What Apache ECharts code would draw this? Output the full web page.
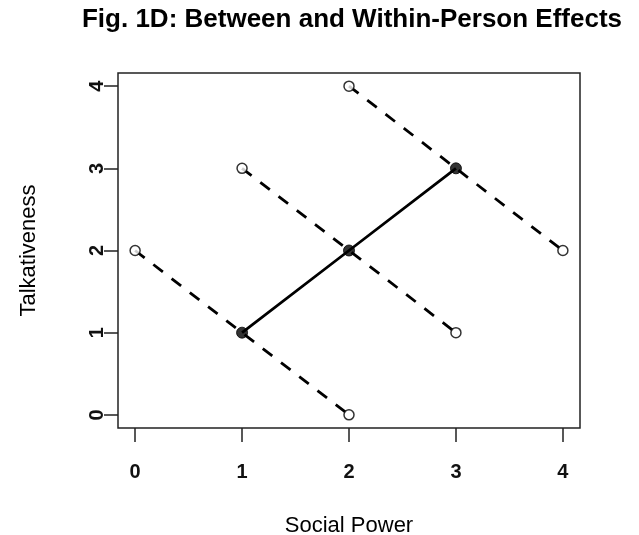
<!DOCTYPE html>
<html><head><meta charset="utf-8">
<script src="https://cdn.jsdelivr.net/npm/echarts@6/dist/echarts.min.js"></script>
<style>html,body{margin:0;padding:0;background:#fff}#c{width:639px;height:535px}</style>
</head><body><div id="c"></div>
<script>
const title = "Fig. 1D: Between and Within-Person Effects";
const xLabel = "Social Power";
const yLabel = "Talkativeness";
// between-person (solid) line
const betweenX = [1, 2, 3];
const betweenY = [1, 2, 3];
// within-person (dashed) lines: each person's start, middle, end
const within1X = [0, 1, 2], within1Y = [2, 1, 0];
const within2X = [1, 2, 3], within2Y = [3, 2, 1];
const within3X = [2, 3, 4], within3Y = [4, 3, 2];
// open-circle endpoints
const openX = [0, 2, 1, 3, 2, 4];
const openY = [2, 0, 3, 1, 4, 2];
// filled person means
const filledX = [1, 2, 3];
const filledY = [1, 2, 3];
const tickVals = [0, 1, 2, 3, 4];

const zip = (a, b) => a.map((v, i) => [v, b[i]]);
const font = 'Liberation Sans, Arial, sans-serif';
const dashed = (xs, ys) => ({
  type: 'line', data: zip(xs, ys), symbol: 'none', z: 2,
  lineStyle: { color: '#000', width: 2.8, type: [12, 11] }
});
const chart = echarts.init(document.getElementById('c'));
chart.setOption({
  animation: false,
  backgroundColor: '#fff',
  title: { text: title, left: 352, top: 7, padding: 0, textAlign: 'center',
    textStyle: { fontFamily: font, fontWeight: 'bold', fontSize: 26, color: '#000' } },
  grid: { left: 118, right: 59, top: 73, bottom: 107, show: true, borderColor: '#222', borderWidth: 1.5,
    backgroundColor: 'transparent', containLabel: false, outerBoundsMode: 'none' },
  xAxis: {
    type: 'value', min: -0.16, max: 4.16,
    name: xLabel, nameLocation: 'middle', nameGap: 87, nameMoveOverlap: false,
    nameTextStyle: { fontFamily: font, fontSize: 22, color: '#000' },
    axisLine: { show: false, onZero: false }, splitLine: { show: false },
    axisTick: { show: true, length: 14, lineStyle: { color: '#222', width: 1.5 }, customValues: tickVals },
    axisLabel: { fontFamily: font, fontSize: 20, fontWeight: 'bold', color: '#111', margin: 34, customValues: tickVals, formatter: v => String(v) }
  },
  yAxis: {
    type: 'value', min: -0.16, max: 4.16,
    name: yLabel, nameLocation: 'middle', nameGap: 78, nameRotate: 90, nameMoveOverlap: false,
    nameTextStyle: { fontFamily: font, fontSize: 22, color: '#000' },
    axisLine: { show: false, onZero: false }, splitLine: { show: false },
    axisTick: { show: true, length: 14, lineStyle: { color: '#222', width: 1.5 }, customValues: tickVals },
    axisLabel: { fontFamily: font, fontSize: 20, fontWeight: 'bold', color: '#111', margin: 11, rotate: 90, customValues: tickVals, formatter: v => String(v) }
  },
  series: [
    dashed(within1X, within1Y),
    dashed(within2X, within2Y),
    dashed(within3X, within3Y),
    { type: 'line', data: zip(betweenX, betweenY), symbol: 'none', z: 3,
      lineStyle: { color: '#000', width: 2.8 } },
    { type: 'scatter', data: zip(openX, openY), symbol: 'circle', symbolSize: 10, z: 5,
      itemStyle: { color: '#fff', borderColor: '#000', borderWidth: 1.5 } },
    { type: 'scatter', data: zip(filledX, filledY), symbol: 'circle', symbolSize: 11, z: 5,
      itemStyle: { color: '#000', borderColor: '#000', borderWidth: 1 } }
  ]
});
</script></body></html>
